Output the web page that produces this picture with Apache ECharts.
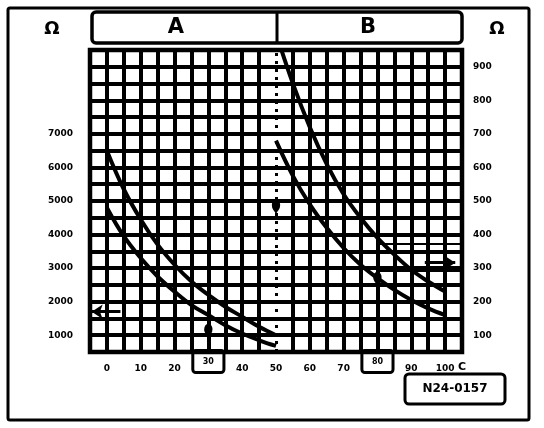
<!DOCTYPE html>
<html>
<head>
<meta charset="utf-8">
<script src="https://cdn.jsdelivr.net/npm/echarts@6/dist/echarts.min.js"></script>
<style>
  html, body { margin: 0; padding: 0; background: #fff; }
  #chart { width: 544px; height: 428px; }
</style>
</head>
<body>
<div id="chart"></div>
<script>
// Thermistor resistance vs temperature: range A (0-50 °C, left Ω scale)
// and range B (50-100 °C, right Ω scale), each with an upper and lower limit.
const tempsA = [0, 5, 10, 15, 20, 25, 30, 35, 40, 45, 50];
const upperA = [6500, 5350, 4450, 3700, 3100, 2600, 2200, 1850, 1550, 1250, 1000];
const lowerA = [4800, 3950, 3300, 2750, 2300, 1900, 1600, 1300, 1050, 850, 680];

const tempsB = [50, 55, 60, 65, 70, 75, 80, 85, 90, 95, 100];
const upperB = [1000, 850, 720, 610, 520, 450, 390, 340, 295, 260, 230];
const lowerB = [680, 575, 490, 420, 360, 310, 270, 235, 205, 180, 160];

// Axis ticks and labels
const tempLabels = [0, 10, 20, 30, 40, 50, 60, 70, 80, 90, 100];
const boxedTemps = [30, 80];
const ohmLabelsA = [1000, 2000, 3000, 4000, 5000, 6000, 7000];
const ohmLabelsB = [100, 200, 300, 400, 500, 600, 700, 800, 900];
const codeText = 'N24-0157';

// Reading aids: split line between ranges, marker drops, pointer arrows, band lines
const splitTemp = 50;
const dropsA = [[30, 850], [50, 4550]];      // left scale
const dropsB = [[80, 240]];                  // right scale
const arrowA = [[4, 1700], [-4.5, 1700]];    // points to left scale
const arrowB = [[94, 316], [103, 316]];      // points to right scale
const bandB = [[80, 105, 372], [80, 105, 292]];

const X_MIN = -5, X_MAX = 105, X_STEP = 5;
const G = { left: 90, top: 50, width: 372, height: 302 };

const font = 'DejaVu Sans';
const chart = echarts.init(document.getElementById('chart'), null, { renderer: 'canvas' });

const gridX = [];
for (let t = X_MIN + X_STEP; t < X_MAX; t += X_STEP) if (t !== splitTemp) gridX.push(t);

const curve = (axis, data) => ({
  type: 'line', smooth: 0.4, showSymbol: false, yAxisIndex: axis, clip: true, z: 4,
  lineStyle: { color: '#000', width: 4 }, data
});

const option = {
  backgroundColor: '#fff',
  animation: false,
  grid: {
    left: G.left, top: G.top, width: G.width, height: G.height,
    show: true, borderColor: '#000', borderWidth: 4.5, backgroundColor: '#fff'
  },
  xAxis: {
    type: 'value', min: X_MIN, max: X_MAX, interval: X_STEP,
    axisLine: { show: false }, axisTick: { show: false }, splitLine: { show: false },
    axisLabel: {
      margin: 4, color: '#000', fontFamily: font, fontWeight: 'bold', fontSize: 9,
      formatter: v => {
        if (boxedTemps.includes(v)) return '{box|' + v + '}';
        return tempLabels.includes(v) ? '{t|' + v + '}' : '';
      },
      rich: {
        t: { fontSize: 9, fontWeight: 'bold', fontFamily: font, lineHeight: 26, color: '#000' },
        box: {
          fontSize: 8, fontWeight: 'bold', fontFamily: font, color: '#000',
          borderColor: '#000', borderWidth: 3, borderRadius: 3,
          padding: [7, 10, 7, 10], lineHeight: 11
        }
      }
    }
  },
  yAxis: [
    {
      type: 'value', min: 500, max: 9500, interval: 500, position: 'left',
      axisLine: { show: false }, axisTick: { show: false },
      splitLine: { show: true, lineStyle: { color: '#000', width: 4 } },
      axisLabel: {
        margin: 17, color: '#000', fontFamily: font, fontWeight: 'bold', fontSize: 9,
        formatter: v => ohmLabelsA.includes(v) ? String(v) : ''
      }
    },
    {
      type: 'value', min: 50, max: 950, interval: 50, position: 'right',
      axisLine: { show: false }, axisTick: { show: false }, splitLine: { show: false },
      axisLabel: {
        margin: 11, color: '#000', fontFamily: font, fontWeight: 'bold', fontSize: 9,
        formatter: v => ohmLabelsB.includes(v) ? String(v) : ''
      }
    }
  ],
  series: [
    {
      // vertical grid lines and the dotted A/B divider
      type: 'line', data: [], xAxisIndex: 0, yAxisIndex: 0, z: 2,
      markLine: {
        silent: true, symbol: 'none', label: { show: false }, animation: false,
        lineStyle: { color: '#000', width: 4, type: 'solid' },
        data: gridX.map(t => ({ xAxis: t })).concat([
          { xAxis: splitTemp, lineStyle: { color: '#000', width: 3, type: [3, 5] } }
        ])
      }
    },
    curve(0, tempsA.map((t, i) => [t, upperA[i]])),
    curve(0, tempsA.map((t, i) => [t, lowerA[i]])),
    curve(1, tempsB.map((t, i) => [t, upperB[i]])),
    curve(1, tempsB.map((t, i) => [t, lowerB[i]])),
    {
      type: 'scatter', yAxisIndex: 0, symbol: 'pin', symbolSize: [14, 19], z: 6,
      itemStyle: { color: '#000', opacity: 1 }, data: dropsA
    },
    {
      type: 'scatter', yAxisIndex: 1, symbol: 'pin', symbolSize: [14, 19], z: 6,
      itemStyle: { color: '#000', opacity: 1 }, data: dropsB
    },
    {
      type: 'line', data: [], yAxisIndex: 0, z: 6,
      markLine: {
        silent: true, symbol: ['none', 'arrow'], symbolSize: [11, 11], label: { show: false },
        lineStyle: { color: '#000', width: 3, type: 'solid' },
        data: [[{ coord: arrowA[0] }, { coord: arrowA[1] }]]
      }
    },
    {
      type: 'line', data: [], yAxisIndex: 1, z: 6,
      markLine: {
        silent: true, symbol: ['none', 'arrow'], symbolSize: [11, 11], label: { show: false },
        lineStyle: { color: '#000', width: 3, type: 'solid' },
        data: [[{ coord: arrowB[0] }, { coord: arrowB[1] }]].concat(
          bandB.map(b => [
            { coord: [b[0], b[2]], symbol: 'none', lineStyle: { width: 2 } },
            { coord: [b[1], b[2]], symbol: 'none' }
          ])
        )
      }
    }
  ],
  graphic: [
    // outer frame
    { type: 'rect', shape: { x: 8, y: 8, width: 521, height: 412, r: 2 },
      style: { fill: 'none', stroke: '#000', lineWidth: 3 }, z: 10 },
    // range header
    { type: 'rect', shape: { x: 92, y: 12, width: 370, height: 31, r: 4 },
      style: { fill: 'none', stroke: '#000', lineWidth: 3.5 }, z: 10 },
    { type: 'line', shape: { x1: 277, y1: 13, x2: 277, y2: 42 },
      style: { stroke: '#000', lineWidth: 3 }, z: 10 },
    { type: 'text', x: 176, y: 28, style: { text: 'A', font: 'bold 21px ' + font, fill: '#000', align: 'center', verticalAlign: 'middle' }, z: 10 },
    { type: 'text', x: 368, y: 28, style: { text: 'B', font: 'bold 21px ' + font, fill: '#000', align: 'center', verticalAlign: 'middle' }, z: 10 },
    { type: 'text', x: 52, y: 29, style: { text: 'Ω', font: 'bold 18px ' + font, fill: '#000', align: 'center', verticalAlign: 'middle' }, z: 10 },
    { type: 'text', x: 497, y: 29, style: { text: 'Ω', font: 'bold 18px ' + font, fill: '#000', align: 'center', verticalAlign: 'middle' }, z: 10 },
    { type: 'text', x: 458, y: 367, style: { text: 'C', font: 'bold 11px ' + font, fill: '#000', align: 'left', verticalAlign: 'middle' }, z: 10 },
    // drawing code box
    { type: 'rect', shape: { x: 405, y: 374, width: 100, height: 30, r: 4 },
      style: { fill: '#fff', stroke: '#000', lineWidth: 3 }, z: 10 },
    { type: 'text', x: 455, y: 389, style: { text: codeText, font: 'bold 12px ' + font, fill: '#000', align: 'center', verticalAlign: 'middle' }, z: 11 }
  ]
};

chart.setOption(option);
</script>
</body>
</html>
